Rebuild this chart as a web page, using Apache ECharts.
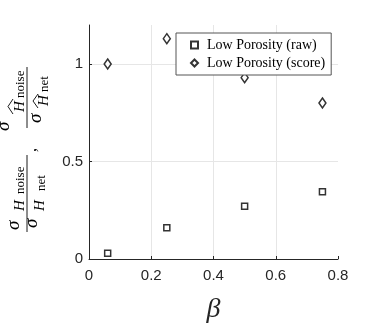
<!DOCTYPE html>
<html>
<head>
<meta charset="utf-8">
<script src="https://cdn.jsdelivr.net/npm/echarts@6/dist/echarts.min.js"></script>
<style>
html, body { margin: 0; padding: 0; background: #fff; }
#chart { width: 374px; height: 332px; }
</style>
</head>
<body>
<div id="chart"></div>
<script>
// beta values shared by both series
var betas = [0.06, 0.25, 0.5, 0.75];
var rawValues = [0.03, 0.16, 0.27, 0.345];
var scoreValues = [1.0, 1.13, 0.93, 0.80];
var seriesNames = ['Low Porosity (raw)', 'Low Porosity (score)'];
var xTicks = [0, 0.2, 0.4, 0.6, 0.8];
var yTicks = [0, 0.5, 1];

var myChart = echarts.init(document.getElementById('chart'));

function pairs(xs, ys) {
	return xs.map(function(x, i) { return [x, ys[i]]; });
}

var serif = 'Liberation Serif';
var axisColor = '#262626';

function t(txt, x, y, size, italic) {
	return {
		type: 'text',
		x: x, y: y,
		style: {
			text: txt, fontSize: size, fontFamily: serif,
			fontStyle: italic ? 'italic' : 'normal',
			fill: '#000', textVerticalAlign: 'middle'
		}
	};
}
function hat(x0, x1, yb, yt) {
	return {
		type: 'polyline',
		shape: { points: [[x0, yb], [(x0 + x1) / 2, yt], [x1, yb]] },
		style: { stroke: '#000', lineWidth: 0.9, fill: null }
	};
}
function bar(x0, x1) {
	return { type: 'line', shape: { x1: x0, y1: 0, x2: x1, y2: 0 }, style: { stroke: '#000', lineWidth: 0.9 } };
}

// rotated LaTeX-ish y label, drawn in local coords then turned 90deg
var yLabel = {
	type: 'group',
	x: 27, y: 146,
	rotation: Math.PI / 2,
	children: [
		bar(-86, -9),
		t('σ', -84, -13.4, 19, true),
		t('H', -65, -7, 15, true),
		t('noise', -48, -6.4, 13, false),
		t('σ', -82, 4.6, 19, true),
		t('H', -65, 13, 15, true),
		t('net', -45, 14.6, 13, false),
		t(',', -6, 5, 16, false),
		bar(18, 79),
		t('σ', 15, -23.4, 19, true),
		hat(32, 47, -14, -19),
		t('H', 34, -7, 15, true),
		t('noise', 48, -6.4, 13, false),
		t('σ', 23, 8.6, 19, true),
		hat(38, 52, 11, 6),
		t('H', 40, 17, 15, true),
		t('net', 54, 17.6, 13, false)
	]
};

var option = {
	animation: false,
	backgroundColor: '#fff',
	grid: { left: 89, top: 25, width: 249, height: 234 },
	legend: {
		orient: 'vertical',
		left: 176, top: 33,
		padding: [4, 6, 4, 14],
		itemWidth: 7, itemHeight: 7,
		itemGap: 2,
		backgroundColor: '#fff',
		borderColor: '#555',
		borderWidth: 1,
		borderRadius: 0,
		textStyle: { fontFamily: serif, fontSize: 14, color: '#000', lineHeight: 16, padding: [0, 0, 0, 4] },
		data: seriesNames
	},
	xAxis: {
		type: 'value',
		min: 0, max: 0.8, interval: 0.2,
		name: 'β',
		nameLocation: 'middle',
		nameGap: 37,
		nameTextStyle: { fontFamily: serif, fontStyle: 'italic', fontSize: 28, color: axisColor },
		axisLine: { lineStyle: { color: axisColor, width: 1 } },
		axisTick: { inside: true, length: 3, lineStyle: { color: axisColor } },
		axisLabel: {
			margin: 9, color: axisColor, fontFamily: 'Liberation Sans', fontSize: 15,
			formatter: function(v) { return xTicks.indexOf(v) >= 0 ? String(v) : ''; }
		},
		splitLine: { show: true, showMaxLine: false, lineStyle: { color: '#e6e6e6', width: 1 } }
	},
	yAxis: {
		type: 'value',
		min: 0, max: 1.2, interval: 0.5,
		axisLine: { show: true, lineStyle: { color: axisColor, width: 1 } },
		axisTick: { show: true, inside: true, length: 3, lineStyle: { color: axisColor } },
		axisLabel: {
			margin: 6, color: axisColor, fontFamily: 'Liberation Sans', fontSize: 15,
			showMaxLabel: false,
			formatter: function(v) { return yTicks.indexOf(v) >= 0 ? String(v) : ''; }
		},
		splitLine: { show: true, showMaxLine: false, lineStyle: { color: '#e6e6e6', width: 1 } }
	},
	series: [{
		name: seriesNames[0],
		type: 'scatter',
		symbol: 'rect',
		symbolSize: 6,
		itemStyle: { color: '#fff', borderColor: '#000', borderWidth: 1.5 },
		data: pairs(betas, rawValues)
	}, {
		name: seriesNames[1],
		type: 'scatter',
		symbol: 'diamond',
		symbolSize: [7, 10],
		itemStyle: { color: '#fff', borderColor: '#000', borderWidth: 1.5 },
		data: pairs(betas, scoreValues)
	}],
	graphic: [yLabel]
};

myChart.setOption(option);

window.addEventListener('resize', function() {
	myChart.resize();
});
</script>
</body>
</html>
